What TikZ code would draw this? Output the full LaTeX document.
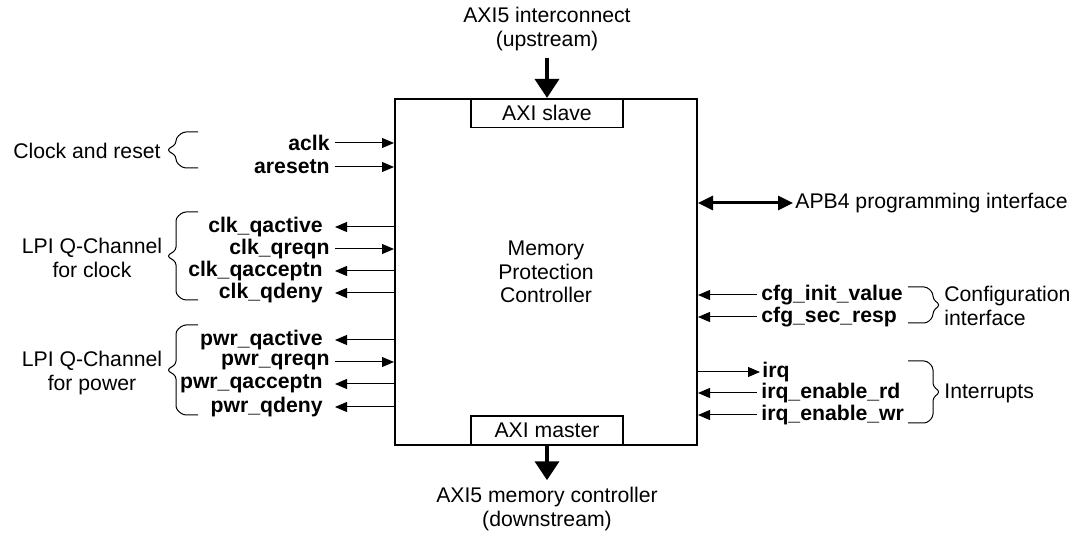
\documentclass[tikz,border=0pt]{standalone}
\usepackage{fontspec}
\setmainfont{Liberation Sans}
\usepackage{tikz}
\usetikzlibrary{arrows.meta}

% x end, x corner, x bend, x tip, y top, y bottom
\newcommand{\drawbrace}[6]{%
  \draw[brace] (#1,#5) -- (#2,#5) -- (#3,{#5+6}) -- (#3,{(#5+#6)/2-6}) -- (#4,{(#5+#6)/2})
    -- (#3,{(#5+#6)/2+6}) -- (#3,{#6-6}) -- (#2,#6) -- (#1,#6);}

\begin{document}
\begin{tikzpicture}[x=0.5pt, y=-0.5pt, font=\fontsize{10.6}{11.8}\selectfont,
    sig/.style={font=\fontsize{10.6}{11.8}\selectfont\bfseries, inner ysep=1pt},
    wire/.style={line width=0.5pt, -{Triangle[length=6pt,width=5pt]}},
    bus/.style={line width=2pt, -{Triangle[length=9.5pt,width=12pt]}},
    apbbus/.style={line width=1.5pt, {Triangle[length=7.5pt,width=7pt]}-{Triangle[length=7.5pt,width=7pt]}},
    port/.style={draw, line width=0.6pt, inner sep=0pt, minimum width=76pt, minimum height=14.5pt},
    brace/.style={line width=0.5pt, rounded corners=1.5pt}]
	\useasboundingbox (0,0) rectangle (1089,533);

	% controller and its AXI ports
	\node (mpc) [draw, line width=1pt, inner sep=0pt, minimum width=151pt, minimum height=173pt, align=center] at (546,272) {Memory\\Protection\\Controller};
	\node (slave) [port] at (547,113) {AXI slave};
	\node (master) [port] at (547,430.5) {AXI master};

	\node (up) [align=center] at (547,29) {AXI5 interconnect\\(upstream)};
	\node (down) [align=center] at (547,509) {AXI5 memory controller\\(downstream)};
	\draw[bus] (up) -- (slave);
	\draw[bus] (master) -- (down);

	% left side signals
	\node (aclk) [sig, anchor=east, inner xsep=2.5pt] at (335,143) {aclk};
	\node (aresetn) [sig, anchor=east, inner xsep=2.5pt] at (335,167) {aresetn};
	\node (clkqactive) [sig, anchor=east, inner xsep=6pt] at (335,227) {clk\_qactive};
	\node (clkqreqn) [sig, anchor=east, inner xsep=2.5pt] at (335,249) {clk\_qreqn};
	\node (clkqacceptn) [sig, anchor=east, inner xsep=6pt] at (335,271) {clk\_qacceptn};
	\node (clkqdeny) [sig, anchor=east, inner xsep=6pt] at (335,293) {clk\_qdeny};
	\node (pwrqactive) [sig, anchor=east, inner xsep=6pt] at (335,340) {pwr\_qactive};
	\node (pwrqreqn) [sig, anchor=east, inner xsep=2.5pt] at (335,362) {pwr\_qreqn};
	\node (pwrqacceptn) [sig, anchor=east, inner xsep=6pt] at (335,384) {pwr\_qacceptn};
	\node (pwrqdeny) [sig, anchor=east, inner xsep=6pt] at (335,407) {pwr\_qdeny};

	\draw[wire] (aclk.east) -- (aclk.east -| mpc.west);
	\draw[wire] (aresetn.east) -- (aresetn.east -| mpc.west);
	\draw[wire] (clkqactive.east -| mpc.west) -- (clkqactive.east);
	\draw[wire] (clkqreqn.east) -- (clkqreqn.east -| mpc.west);
	\draw[wire] (clkqacceptn.east -| mpc.west) -- (clkqacceptn.east);
	\draw[wire] (clkqdeny.east -| mpc.west) -- (clkqdeny.east);
	\draw[wire] (pwrqactive.east -| mpc.west) -- (pwrqactive.east);
	\draw[wire] (pwrqreqn.east) -- (pwrqreqn.east -| mpc.west);
	\draw[wire] (pwrqacceptn.east -| mpc.west) -- (pwrqacceptn.east);
	\draw[wire] (pwrqdeny.east -| mpc.west) -- (pwrqdeny.east);

	\node (clkrst) [anchor=east, inner sep=1pt] at (163,151) {Clock and reset};
	\node (lpiclk) [align=center] at (92,258) {LPI Q-Channel\\for clock};
	\node (lpipwr) [align=center] at (92,373) {LPI Q-Channel\\for power};
	\drawbrace{198}{183}{176}{167}{132}{168}
	\drawbrace{198}{183}{176}{167}{212}{300}
	\drawbrace{198}{183}{176}{167}{325}{415}

	% right side signals
	\node (apb) [anchor=west, inner sep=1pt] at (793,203) {APB4 programming interface};
	\draw[apbbus] (apb.west -| mpc.east) -- (apb.west);

	\node (cfginit) [sig, anchor=west, inner xsep=2pt] at (757,295) {cfg\_init\_value};
	\node (cfgsec) [sig, anchor=west, inner xsep=2pt] at (757,317) {cfg\_sec\_resp};
	\node (irq) [sig, anchor=west, inner xsep=1pt] at (760,372) {irq};
	\node (irqrd) [sig, anchor=west, inner xsep=2pt] at (757,393) {irq\_enable\_rd};
	\node (irqwr) [sig, anchor=west, inner xsep=2pt] at (757,415) {irq\_enable\_wr};

	\draw[wire] (cfginit.west) -- (cfginit.west -| mpc.east);
	\draw[wire] (cfgsec.west) -- (cfgsec.west -| mpc.east);
	\draw[wire] (irq.west -| mpc.east) -- (irq.west);
	\draw[wire] (irqrd.west) -- (irqrd.west -| mpc.east);
	\draw[wire] (irqwr.west) -- (irqwr.west -| mpc.east);

	\node (cfgif) [anchor=west, align=left, inner sep=1pt] at (942,306) {Configuration\\interface};
	\node (intr) [anchor=west, inner sep=1pt] at (942,393) {Interrupts};
	\drawbrace{908}{927}{933}{940}{287}{323}
	\drawbrace{908}{927}{933}{940}{361}{423}
\end{tikzpicture}
\end{document}
